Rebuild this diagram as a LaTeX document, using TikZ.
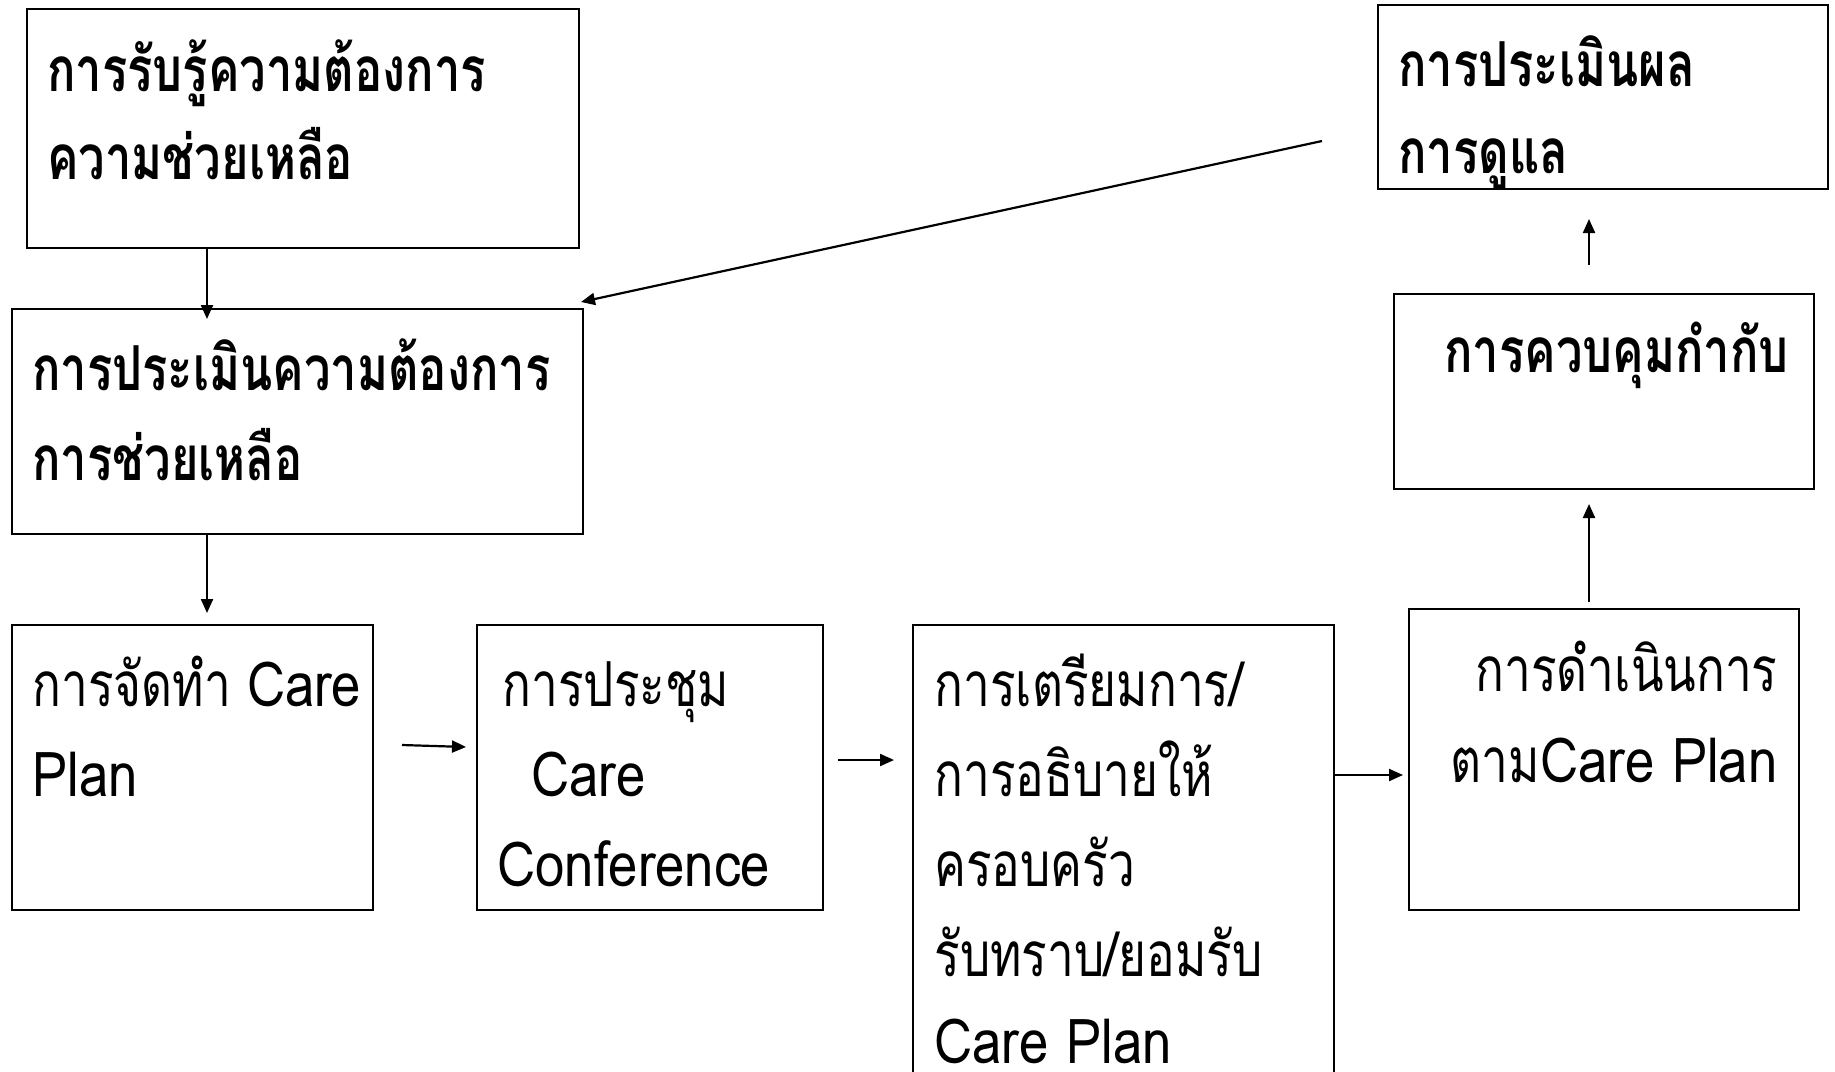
\documentclass[tikz,border=0pt]{standalone}
\usepackage{fontspec}
\usetikzlibrary{arrows.meta,calc,fit}
\newfontfamily\thaibold[Script=Thai,FakeStretch=0.76]{Loma}
\newfontfamily\thaicond[Script=Thai,FakeStretch=0.77]{Loma}
\newfontfamily\latcond[FakeStretch=0.85]{Loma}
\newcommand{\lat}[1]{{\latcond #1}}
\begin{document}
\begin{tikzpicture}[x=0.5pt,y=-0.5pt,
  boxstyle/.style={draw,line width=1.2pt,inner sep=0pt},
  topfont/.style={anchor=base west,inner sep=0pt,font=\thaibold\bfseries\fontsize{31}{45}\selectfont},
  botfont/.style={anchor=base west,inner sep=0pt,font=\thaicond\fontsize{31}{45}\selectfont},
  arr/.style={line width=1.1pt,-{Triangle[length=7pt,width=6pt]}}]
\useasboundingbox (0,0) rectangle (1835,1071);
% boxes
\node[boxstyle,fit={(27,9)(579,248)}] (A) {};
\node[boxstyle,fit={(12,309)(583,534)}] (B) {};
\node[boxstyle,fit={(12,625)(373,910)}] (C) {};
\node[boxstyle,fit={(477,625)(823,910)}] (D) {};
\node[boxstyle,fit={(913,625)(1334,1110)}] (E) {};
\node[boxstyle,fit={(1409,609)(1799,910)}] (F) {};
\node[boxstyle,fit={(1394,294)(1814,489)}] (G) {};
\node[boxstyle,fit={(1378,5)(1828,189)}] (H) {};
% texts
\node[topfont] (a1) at (47,91) {การรับรู้ความต้องการ};
\node[topfont] (a2) at (47,179) {ความช่วยเหลือ};
\node[topfont] (b1) at (32,390) {การประเมินความต้องการ};
\node[topfont] (b2) at (32,480) {การช่วยเหลือ};
\node[topfont] (h1) at (1398,86) {การประเมินผล};
\node[topfont] (h2) at (1398,173) {การดูแล};
\node[topfont] (g1) at (1444,372) {การควบคุมกำกับ};
\node[botfont] (c1) at (32,706) {การจัดทำ \lat{Care}};
\node[botfont] (c2) at (32,796) {\lat{Plan}};
\node[botfont] (d1) at (502,706) {การประชุม};
\node[botfont] (d2) at (531,796) {\lat{Care}};
\node[botfont] (d3) at (497,886) {\lat{Conference}};
\node[botfont] (e1) at (934,706) {การเตรียมการ/};
\node[botfont] (e2) at (934,796) {การอธิบายให้};
\node[botfont] (e3) at (934,886) {ครอบครัว};
\node[botfont] (e4) at (934,976) {รับทราบ/ยอมรับ};
\node[botfont] (e5) at (934,1063) {\lat{Care Plan}};
\node[botfont,anchor=base east] (f1) at (1778,691) {การดำเนินการ};
\node[botfont,anchor=base east] (f2) at (1778,782) {ตาม\lat{Care Plan}};
% connector ends
\coordinate (ab1) at (207,248); \coordinate (ab2) at (207,319);
\coordinate (bc1) at (207,534); \coordinate (bc2) at (207,613);
\coordinate (cd1) at (402,745); \coordinate (cd2) at (466,747);
\coordinate (de1) at (838,760); \coordinate (de2) at (894,760);
\coordinate (ef1) at (1334,775); \coordinate (ef2) at (1403,775);
\coordinate (fg1) at (1589,602); \coordinate (fg2) at (1589,504);
\coordinate (gh1) at (1589,265); \coordinate (gh2) at (1589,219);
\coordinate (hb1) at (1322,141); \coordinate (hb2) at (581,302);
\draw[arr] (ab1) -- (ab2);
\draw[arr] (bc1) -- (bc2);
\draw[arr] (cd1) -- (cd2);
\draw[arr] (de1) -- (de2);
\draw[arr] (ef1) -- (ef2);
\draw[arr] (fg1) -- (fg2);
\draw[arr] (gh1) -- (gh2);
\draw[arr] (hb1) -- (hb2);
\end{tikzpicture}
\end{document}
